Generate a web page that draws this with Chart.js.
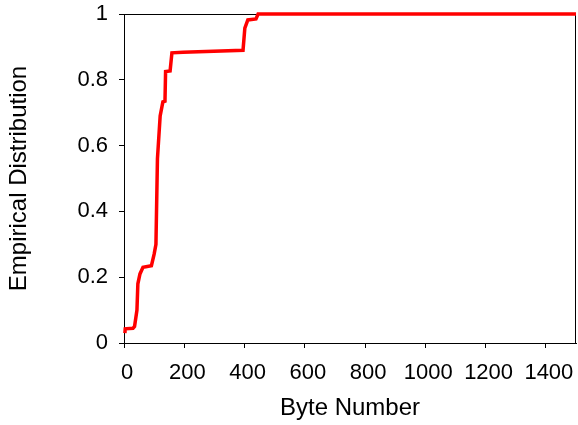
<!DOCTYPE html>
<html>
<head>
<meta charset="utf-8">
<script src="https://cdn.jsdelivr.net/npm/chart.js@4"></script>
<style>
    html, body { margin: 0; padding: 0; background: #fff; }
    #wrap { width: 578px; height: 425px; }
</style>
</head>
<body>
<div id="wrap"><canvas id="myChart"></canvas></div>
<script>
// byte number values
const byteNumbers = [3, 4, 30, 35, 43, 46, 53, 63, 91, 100, 106, 111, 120, 129, 136, 138, 153, 159, 196, 395, 401, 411, 438, 445, 1500];
// empirical distribution at each byte number
const cdfValues = [0.03, 0.043, 0.045, 0.05, 0.10, 0.18, 0.21, 0.23, 0.235, 0.27, 0.30, 0.56, 0.69, 0.733, 0.735, 0.825, 0.827, 0.882, 0.884, 0.89, 0.957, 0.982, 0.985, 1.0, 1.0];
// tick labels
const xTicks = [0, 200, 400, 600, 800, 1000, 1200, 1400];
const yTicks = [0, 0.2, 0.4, 0.6, 0.8, 1];

const FONT = "'Liberation Sans', Arial, Helvetica, sans-serif";

// draws the black frame round the plot area (under the curve)
const frame = {
    id: "frame",
    beforeDatasetsDraw(chart) {
        const { ctx, chartArea: a } = chart;
        ctx.save();
        ctx.strokeStyle = "#000";
        ctx.lineWidth = 1;
        ctx.strokeRect(a.left + 0.5, a.top + 0.5, a.right - a.left - 1, a.bottom - a.top);
        ctx.restore();
    },
};

window.onload = function () {
    const ctx = document.getElementById("myChart").getContext("2d");
    const points = byteNumbers.map((x, i) => ({ x: x, y: cdfValues[i] }));
    window.graph = new Chart(ctx, {
        type: "line",
        data: {
            datasets: [{
                data: points,
                borderColor: "#ff0000",
                borderWidth: 3.5,
                pointRadius: 0,
                tension: 0,
                fill: false,
                clip: false,
            }],
        },
        options: {
            responsive: true,
            maintainAspectRatio: false,
            animation: false,
            layout: { padding: { top: 14, right: 2, left: 0, bottom: 0 } },
            plugins: { legend: { display: false }, tooltip: { enabled: false } },
            scales: {
                x: {
                    type: "linear",
                    min: 0,
                    max: 1500,
                    afterBuildTicks: (axis) => {
                        axis.ticks = xTicks.map((v) => ({ value: v }));
                    },
                    afterFit: (axis) => {
                        axis.height = 82;
                        axis.paddingLeft = 0;
                        axis.paddingRight = 0;
                    },
                    grid: { drawOnChartArea: false, drawTicks: true, tickLength: 5, color: "#000" },
                    border: { display: true, color: "#000" },
                    ticks: {
                        color: "#000",
                        padding: 12,
                        labelOffset: 3,
                        maxRotation: 0,
                        autoSkip: false,
                        font: { family: FONT, size: 22 },
                        callback: (v) => String(v),
                    },
                    title: {
                        display: true,
                        text: "Byte Number",
                        color: "#000",
                        padding: { top: 0, bottom: 2 },
                        font: { family: FONT, size: 24 },
                    },
                },
                y: {
                    type: "linear",
                    min: 0,
                    max: 1,
                    afterBuildTicks: (axis) => {
                        axis.ticks = yTicks.map((v) => ({ value: v }));
                    },
                    afterFit: (axis) => {
                        axis.width = 124;
                        axis.paddingTop = 0;
                        axis.paddingBottom = 0;
                    },
                    grid: { drawOnChartArea: false, drawTicks: true, tickLength: 5, color: "#000" },
                    border: { display: true, color: "#000" },
                    ticks: {
                        color: "#000",
                        padding: 11,
                        font: { family: FONT, size: 22 },
                        callback: (v) => String(v),
                    },
                    title: {
                        display: true,
                        text: "Empirical Distribution",
                        color: "#000",
                        padding: { top: 5, bottom: 0 },
                        font: { family: FONT, size: 24 },
                    },
                },
            },
        },
        plugins: [frame],
    });
};
</script>
</body>
</html>
